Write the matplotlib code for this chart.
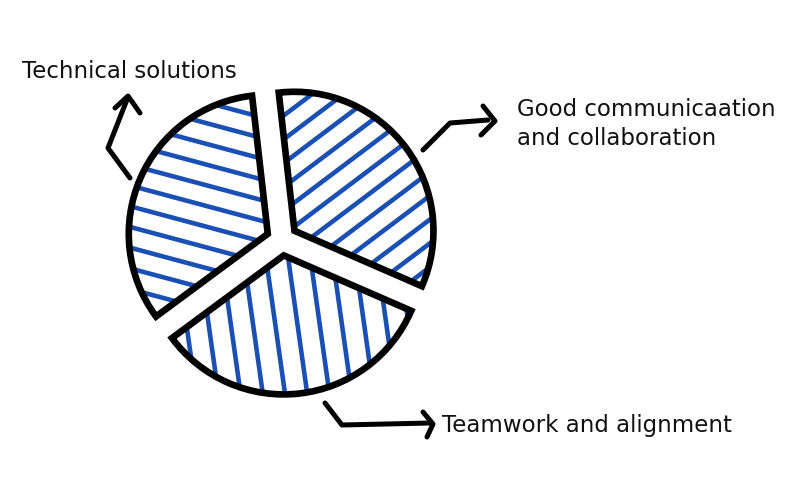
import numpy as np
import matplotlib
matplotlib.use("Agg")
import matplotlib.pyplot as plt

# ---- data ----
labels = ["Good communicaation\nand collaboration", "Teamwork and alignment", "Technical solutions"]
shares = [1, 1, 1]

# ---- style ----
hatch_angles = [37, -82, -15]
hatch_spacing = [19, 22, 20]
BLUE = "#1a4fb3"

plt.rcParams["font.family"] = ["DejaVu Sans"]

fig = plt.figure(figsize=(8, 5), dpi=100)
ax = fig.add_axes([0, 0, 1, 1])

wedges, _ = ax.pie(
    shares, startangle=96.5, counterclock=False,
    center=(282, 260), radius=139, explode=[15.5] * len(shares),
    wedgeprops=dict(facecolor="none", edgecolor="black", linewidth=4.8, zorder=3),
)

# custom hatching clipped to each wedge
for w, ang, sp in zip(wedges, hatch_angles, hatch_spacing):
    c = np.array(w.center)
    r = w.r
    d = np.array([np.cos(np.radians(ang)), np.sin(np.radians(ang))])
    n = np.array([-d[1], d[0]])
    for k in np.arange(-r - sp, r + sp, sp) + sp / 2:
        p0 = c + k * n - 1.3 * r * d
        p1 = c + k * n + 1.3 * r * d
        ln, = ax.plot([p0[0], p1[0]], [p0[1], p1[1]], color=BLUE, lw=3.3,
                      solid_capstyle="butt", zorder=2)
        ln.set_clip_path(w)

H = 500
def pts(seq):
    xs = [p[0] for p in seq]
    ys = [H - p[1] for p in seq]
    return xs, ys

arrow_kw = dict(color="black", lw=3.6, solid_capstyle="round", solid_joinstyle="round", zorder=4)

# arrow to "Technical solutions"
ax.plot(*pts([(130, 178), (108, 148), (128, 97)]), **arrow_kw)
ax.plot(*pts([(115, 108), (128, 96), (140, 113)]), **arrow_kw)
# arrow to "Good communication"
ax.plot(*pts([(423, 150), (450, 123), (488, 120)]), **arrow_kw)
ax.plot(*pts([(483, 106), (495, 121), (481, 135)]), **arrow_kw)
# arrow to "Teamwork"
ax.plot(*pts([(325, 403), (342, 425), (430, 423)]), **arrow_kw)
ax.plot(*pts([(423, 412), (433, 424), (427, 437)]), **arrow_kw)

FS = 16.5
txt_kw = dict(fontsize=FS, color="#111111", ha="left", va="baseline")
ax.text(22, H - 78, labels[2], **txt_kw)
for i, line in enumerate(labels[0].split("\n")):
    ax.text(517, H - (116 + 29 * i), line, **txt_kw)
ax.text(442, H - 432, labels[1], **txt_kw)

ax.set_xlim(0, 800)
ax.set_ylim(0, 500)
ax.set_aspect("equal")
ax.axis("off")

fig.savefig("out.png", dpi=100)
